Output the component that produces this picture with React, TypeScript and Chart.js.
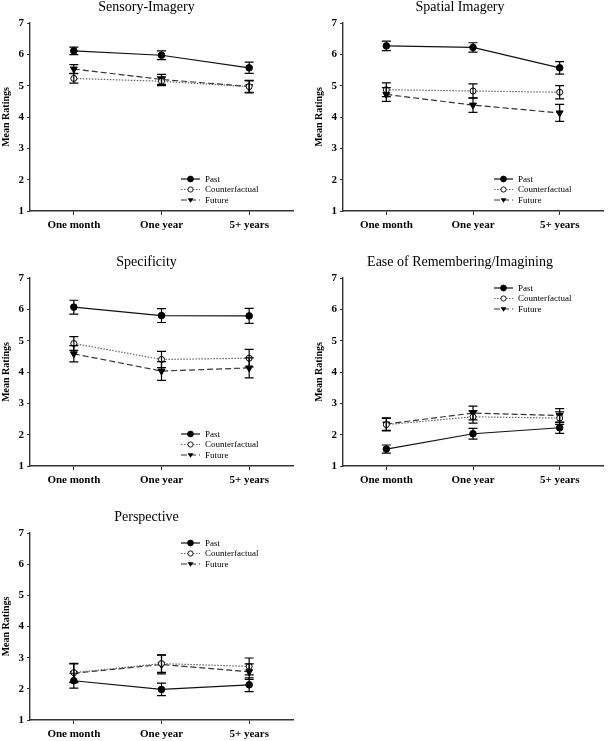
import React, { useEffect, useRef } from "react";
import { Chart, registerables } from "chart.js";
Chart.register(...registerables);

const categories = ["One month", "One year", "5+ years"];
const seriesNames = ["Past", "Counterfactual", "Future"];
const yMin = 1;
const yMax = 7;

// Sensory-Imagery
const sensoryPast = [6.11, 5.97, 5.57];
const sensoryPastErr = [0.12, 0.14, 0.18];
const sensoryCf = [5.23, 5.14, 4.97];
const sensoryCfErr = [0.15, 0.14, 0.18];
const sensoryFut = [5.53, 5.2, 4.97];
const sensoryFutErr = [0.14, 0.16, 0.2];

// Spatial Imagery
const spatialPast = [6.27, 6.22, 5.57];
const spatialPastErr = [0.15, 0.15, 0.2];
const spatialCf = [4.87, 4.83, 4.79];
const spatialCfErr = [0.22, 0.23, 0.21];
const spatialFut = [4.72, 4.38, 4.13];
const spatialFutErr = [0.22, 0.23, 0.27];

// Specificity
const specPast = [6.07, 5.8, 5.79];
const specPastErr = [0.22, 0.22, 0.24];
const specCf = [4.91, 4.4, 4.44];
const specCfErr = [0.22, 0.26, 0.28];
const specFut = [4.58, 4.03, 4.13];
const specFutErr = [0.26, 0.3, 0.32];

// Ease of Remembering/Imagining
const easePast = [1.54, 2.03, 2.22];
const easePastErr = [0.13, 0.17, 0.18];
const easeCf = [2.32, 2.57, 2.53];
const easeCfErr = [0.2, 0.2, 0.2];
const easeFut = [2.34, 2.69, 2.61];
const easeFutErr = [0.2, 0.22, 0.22];

// Perspective
const perspPast = [2.26, 1.98, 2.13];
const perspPastErr = [0.24, 0.2, 0.22];
const perspCf = [2.52, 2.81, 2.72];
const perspCfErr = [0.3, 0.28, 0.27];
const perspFut = [2.5, 2.78, 2.55];
const perspFutErr = [0.3, 0.3, 0.25];

const FONT = "'Liberation Serif', 'DejaVu Serif', serif";

type Panel = {
  title: string;
  values: number[][];
  errors: number[][];
  left: number;
  top: number;
  width: number;
  height: number;
  xAxisHeight: number;
  legendTop: boolean;
};

const panels: Panel[] = [
  { title: "Sensory-Imagery", values: [sensoryPast, sensoryCf, sensoryFut], errors: [sensoryPastErr, sensoryCfErr, sensoryFutErr], left: 0, top: 0, width: 300, height: 240, xAxisHeight: 29, legendTop: false },
  { title: "Spatial Imagery", values: [spatialPast, spatialCf, spatialFut], errors: [spatialPastErr, spatialCfErr, spatialFutErr], left: 313, top: 0, width: 295, height: 240, xAxisHeight: 29, legendTop: false },
  { title: "Specificity", values: [specPast, specCf, specFut], errors: [specPastErr, specCfErr, specFutErr], left: 0, top: 255, width: 300, height: 240, xAxisHeight: 29, legendTop: false },
  { title: "Ease of Remembering/Imagining", values: [easePast, easeCf, easeFut], errors: [easePastErr, easeCfErr, easeFutErr], left: 313, top: 255, width: 295, height: 240, xAxisHeight: 29, legendTop: true },
  { title: "Perspective", values: [perspPast, perspCf, perspFut], errors: [perspPastErr, perspCfErr, perspFutErr], left: 0, top: 510, width: 300, height: 231, xAxisHeight: 21, legendTop: true },
];

const styles = [
  { dash: [] as number[], pointStyle: "circle", radius: 3.3, fill: "#000", rotation: 0, lineColor: "#111", legendR: 2.9 },
  { dash: [1.5, 1.5], pointStyle: "circle", radius: 3.0, fill: "#fff", rotation: 0, lineColor: "#666", legendR: 2.6 },
  { dash: [6, 3], pointStyle: "triangle", radius: 4.0, fill: "#000", rotation: 180, lineColor: "#333", legendR: 3.0 },
];

const errorBarPlugin = {
  id: "errorBars",
  afterDatasetsDraw(chart: any) {
    const errs: number[][] = chart.options.plugins.errorBars.errors;
    const ctx = chart.ctx;
    const ys = chart.scales.y;
    ctx.save();
    ctx.strokeStyle = "#000";
    ctx.lineWidth = 1.2;
    chart.data.datasets.forEach((ds: any, di: number) => {
      const meta = chart.getDatasetMeta(di);
      meta.data.forEach((pt: any, i: number) => {
        const v = ds.data[i];
        const e = errs[di][i];
        const x = pt.x;
        const y1 = ys.getPixelForValue(v - e);
        const y2 = ys.getPixelForValue(v + e);
        ctx.beginPath();
        ctx.moveTo(x, y1);
        ctx.lineTo(x, y2);
        ctx.moveTo(x - 4.5, y1);
        ctx.lineTo(x + 4.5, y1);
        ctx.moveTo(x - 4.5, y2);
        ctx.lineTo(x + 4.5, y2);
        ctx.stroke();
      });
    });
    ctx.restore();
  },
};

const innerLegendPlugin = {
  id: "innerLegend",
  afterDraw(chart: any) {
    const opts = chart.options.plugins.innerLegend;
    const ca = chart.chartArea;
    const ctx = chart.ctx;
    const x0 = ca.left + 151;
    const x1 = ca.left + 170;
    const rowYs = opts.top
      ? [ca.top + 10, ca.top + 20.5, ca.top + 31]
      : [ca.bottom - 32, ca.bottom - 21.5, ca.bottom - 11];
    chart.data.datasets.forEach((ds: any, i: number) => {
      const s = styles[i];
      const y = rowYs[i];
      ctx.save();
      ctx.strokeStyle = s.lineColor;
      ctx.lineWidth = 1.2;
      ctx.setLineDash(s.dash);
      ctx.beginPath();
      ctx.moveTo(x0, y);
      ctx.lineTo(x1, y);
      ctx.stroke();
      ctx.setLineDash([]);
      ctx.fillStyle = s.fill;
      ctx.strokeStyle = "#000";
      ctx.lineWidth = 0.9;
      const cx = (x0 + x1) / 2;
      if (s.pointStyle === "circle") {
        ctx.beginPath();
        ctx.arc(cx, y, s.legendR, 0, Math.PI * 2);
        ctx.fill();
        ctx.stroke();
      } else {
        const r = s.legendR;
        ctx.beginPath();
        ctx.moveTo(cx - r, y - r * 0.6);
        ctx.lineTo(cx + r, y - r * 0.6);
        ctx.lineTo(cx, y + r * 0.9);
        ctx.closePath();
        ctx.fill();
      }
      ctx.fillStyle = "#000";
      ctx.font = `9px ${FONT}`;
      ctx.textBaseline = "middle";
      ctx.textAlign = "left";
      ctx.fillText(ds.label, ca.left + 175, y + 0.5);
      ctx.restore();
    });
  },
};

function PanelChart({ panel }: { panel: Panel }) {
  const ref = useRef<HTMLCanvasElement>(null);
  useEffect(() => {
    if (!ref.current) return;
    const chart = new Chart(ref.current, {
      type: "line",
      data: {
        labels: categories,
        datasets: panel.values.map((vals, i) => ({
          label: seriesNames[i],
          data: vals,
          borderColor: styles[i].lineColor,
          borderWidth: 1.2,
          borderDash: styles[i].dash,
          pointStyle: styles[i].pointStyle as any,
          pointRadius: styles[i].radius,
          pointRotation: styles[i].rotation,
          pointBackgroundColor: styles[i].fill,
          pointBorderColor: "#000",
          pointBorderWidth: 1,
          tension: 0,
          fill: false,
        })),
      },
      options: {
        animation: false,
        responsive: false,
        maintainAspectRatio: false,
        layout: { padding: { left: 0, right: panel.left === 0 ? 7 : 1, top: 0, bottom: 0 } },
        plugins: {
          legend: { display: false },
          tooltip: { enabled: false },
          title: {
            display: true,
            text: panel.title,
            color: "#000",
            font: { family: FONT, size: 14, weight: "normal", lineHeight: 1 },
            padding: { top: 0, bottom: 9 },
          },
          errorBars: { errors: panel.errors },
          innerLegend: { top: panel.legendTop },
        } as any,
        scales: {
          x: {
            type: "category",
            offset: true,
            afterFit: (s: any) => {
              s.height = panel.xAxisHeight;
            },
            grid: {
              display: true,
              drawOnChartArea: false,
              drawTicks: true,
              tickLength: 4,
              color: "#333",
              offset: false,
            },
            border: { display: true, color: "#333", width: 1.4 },
            ticks: {
              color: "#000",
              font: { family: FONT, size: 11, weight: "bold" },
              padding: 4,
              maxRotation: 0,
            },
          },
          y: {
            min: yMin,
            max: yMax,
            afterFit: (s: any) => {
              s.width = 30;
            },
            grid: {
              display: true,
              drawOnChartArea: false,
              drawTicks: true,
              tickLength: 3,
              color: "#333",
            },
            border: { display: true, color: "#333", width: 1.4 },
            ticks: {
              stepSize: 1,
              color: "#000",
              font: { family: FONT, size: 11, weight: "bold" },
              padding: 3,
            },
            title: {
              display: true,
              text: "Mean Ratings",
              color: "#000",
              font: { family: FONT, size: 10, weight: "bold" },
              padding: { top: 0, bottom: 0 },
            },
          },
        },
      },
      plugins: [errorBarPlugin, innerLegendPlugin],
    });
    return () => chart.destroy();
  }, [panel]);
  return (
    <canvas
      ref={ref}
      width={panel.width}
      height={panel.height}
      style={{ position: "absolute", left: panel.left, top: panel.top, width: panel.width, height: panel.height }}
    />
  );
}

export default function App() {
  return (
    <div style={{ position: "fixed", left: 0, top: 0, width: 608, height: 741, background: "#fff" }}>
      {panels.map((p) => (
        <PanelChart key={p.title} panel={p} />
      ))}
    </div>
  );
}
